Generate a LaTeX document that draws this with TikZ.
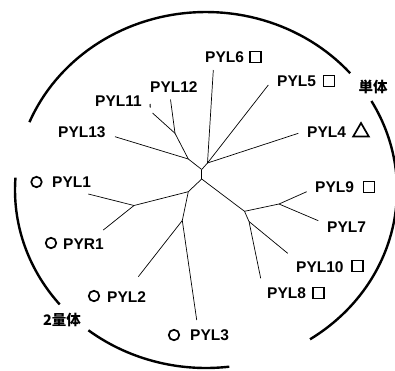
\documentclass[tikz,border=0pt]{standalone}
\usepackage{fontspec}
\setmainfont{Liberation Sans}
\newfontfamily\jpfont{Noto Sans CJK JP}
\usetikzlibrary{shapes.geometric}

\begin{document}
\begin{tikzpicture}[x=1pt,y=-1pt,
  lbl/.style={font=\fontsize{15.5}{16}\selectfont\bfseries,inner sep=0pt,anchor=west},
  jlbl/.style={font=\jpfont\fontsize{14.5}{15}\selectfont\bfseries,inner sep=0pt},
  sqmark/.style={draw,line width=1.8pt,minimum width=11pt,minimum height=11pt,inner sep=0pt},
  cmark/.style={circle,draw,line width=1.7pt,minimum size=10.5pt,inner sep=0pt},
  tmark/.style={regular polygon,regular polygon sides=3,draw,line width=1.7pt,minimum size=18pt,inner sep=0pt},
  branch/.style={line width=0.7pt},
  rim/.style={line width=2.4pt}]
\useasboundingbox (0,0) rectangle (395,370);
\clip (0,0) rectangle (395,370);
% outer ring, four pieces
\draw[rim] plot[domain=-157.6:-41,samples=60] ({206+191*cos(\x)},{190+178*sin(\x)});
\draw[rim] plot[domain=-30:57,samples=60] ({206+191*cos(\x)},{190+178*sin(\x)});
\draw[rim] plot[domain=83:128,samples=40] ({206+191*cos(\x)},{190+178*sin(\x)});
\draw[rim] plot[domain=140:184,samples=40] ({206+191*cos(\x)},{190+178*sin(\x)});
% inner nodes of the tree
\foreach \n/\x/\y in %
{a/201.7/169.5,b/201.7/179,c/207.5/163,d/188.3/159,e/175/133.3,%
 f/188.3/191.7,g/134/205.5,h/182.3/220.5,k/244.5/211.3,m/279/204,n/249/221.5} {
   \coordinate (\n) at (\x,\y);
}
% free ends of the branches
\foreach \n/\x/\y in %
{e6/213.3/70,e5/268.3/85,e4/298.3/133.3,e13/115/136.7,e12/170.5/99.5,e11/152.5/113,%
 e1/88.3/194,er/103.3/230,e2/138.3/276.7,e3/196.7/320,%
 e9/306.7/191.7,e7/318.3/220.7,e10/287.7/253.3,e8/260.7/278.3} {
   \coordinate (\n) at (\x,\y);
}
\draw[branch] (a) -- (b);
\draw[branch] (a) -- (c); \draw[branch] (a) -- (d);
\draw[branch] (c) -- (e6); \draw[branch] (c) -- (e5); \draw[branch] (c) -- (e4);
\draw[branch] (d) -- (e13); \draw[branch] (d) -- (e);
\draw[branch] (e) -- (e12); \draw[branch] (e) -- (e11);
\draw[branch] (b) -- (f); \draw[branch] (b) -- (k);
\draw[branch] (f) -- (g); \draw[branch] (f) -- (h);
\draw[branch] (g) -- (e1); \draw[branch] (g) -- (er);
\draw[branch] (h) -- (e2); \draw[branch] (h) -- (e3);
\draw[branch] (k) -- (m); \draw[branch] (k) -- (n);
\draw[branch] (m) -- (e9); \draw[branch] (m) -- (e7);
\draw[branch] (n) -- (e10); \draw[branch] (n) -- (e8);
\coordinate (t1) at (150,104); \coordinate (t2) at (150.3,107.5);
\draw[line width=1pt] (t1) -- (t2);
% labels
\foreach \n/\x/\y/\t in %
{l6/205/57/PYL6,l5/277/81/PYL5,l4/307/132/PYL4,l9/315/187/PYL9,l7/327/227/PYL7,%
 l10/296/267/PYL10,l8/267/293/PYL8,l3/190/335/PYL3,l2/107/297/PYL2,lr/63/244/PYR1,%
 l1/52/182/PYL1,l13/58/132/PYL13,l11/95/101/PYL11,l12/150/87/PYL12} {
   \node[lbl] (\n) at (\x,\y) {\t};
}
\node[jlbl] (mono) at (373,87) {単体};
\node[jlbl] (dimer) at (62,320) {2量体};
% marks
\foreach \n/\x/\y in %
{s6/255.5/57,s5/329/81,s9/369/187,s10/357.5/266,s8/318.5/293} {
   \node[sqmark] (\n) at (\x,\y) {};
}
\foreach \n/\x/\y in %
{c1/36.5/182,cr/51/243,c2/94/296,c3/174/335} {
   \node[cmark] (\n) at (\x,\y) {};
}
\node[tmark] (t4) at (361,132) {};
\end{tikzpicture}
\end{document}
